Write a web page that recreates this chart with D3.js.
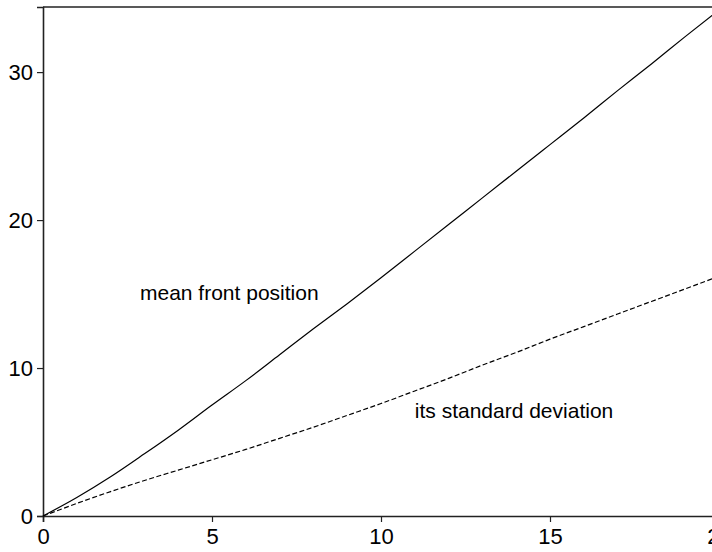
<!DOCTYPE html>
<html>
<head>
<meta charset="utf-8">
<script src="https://cdn.jsdelivr.net/npm/d3@7"></script>
<style>
  html, body { margin: 0; padding: 0; background: #fff; overflow: hidden; }
  svg { display: block; font-family: "Liberation Sans", Arial, Helvetica, sans-serif; }
</style>
</head>
<body>
<svg id="chart" width="712" height="552"></svg>
<script>
const xValues = [0,1,2,3,4,5,6,7,8,9,10,11,12,13,14,15,16,17,18,19,20];
const meanFront = [0,1.25,2.65,4.2,5.8,7.5,9.15,10.9,12.65,14.35,16.1,17.9,19.7,21.5,23.3,25.1,26.9,28.75,30.55,32.4,34.2];
const stdDev = [0,0.85,1.65,2.4,3.1,3.8,4.5,5.25,6.0,6.8,7.6,8.45,9.3,10.2,11.05,11.95,12.8,13.65,14.5,15.35,16.2];
const xTicks = [0,5,10,15,20];
const yTicks = [0,10,20,30];
const labels = [
  {text: "mean front position", x: 2.87, y: 14.6},
  {text: "its standard deviation", x: 11.0, y: 6.6}
];

const svg = d3.select("#chart");
const x = d3.scaleLinear().domain([0,20]).range([43,719]);
const y = d3.scaleLinear().domain([0,34.4]).range([516,7]);

const axisColor = "#222";

// top frame line
svg.append("line")
  .attr("x1", x(0)).attr("x2", x(20))
  .attr("y1", y(34.4)).attr("y2", y(34.4))
  .attr("stroke", axisColor).attr("stroke-width", 1.6);

const xAxis = svg.append("g")
  .attr("transform", `translate(0,${y(0)})`)
  .call(d3.axisBottom(x).tickValues(xTicks).tickSize(6).tickPadding(6).tickFormat(d3.format("d")));
xAxis.select(".domain").attr("stroke", axisColor).attr("stroke-width", 1.6);
xAxis.selectAll(".tick line").attr("stroke", axisColor).attr("stroke-width", 1.2);
xAxis.selectAll(".tick text").attr("font-size", 22).attr("fill", "#000")
  .attr("font-family", "'Liberation Sans', Arial, sans-serif");

const yAxis = svg.append("g")
  .attr("transform", `translate(${x(0)},0)`)
  .call(d3.axisLeft(y).tickValues(yTicks).tickSize(6).tickPadding(4).tickFormat(d3.format("d")));
yAxis.select(".domain").attr("stroke", axisColor).attr("stroke-width", 1.6);
yAxis.selectAll(".tick line").attr("stroke", axisColor).attr("stroke-width", 1.2);
yAxis.selectAll(".tick text").attr("font-size", 22).attr("fill", "#000")
  .attr("font-family", "'Liberation Sans', Arial, sans-serif");

const line = d3.line().x((d,i) => x(xValues[i])).y(d => y(d)).curve(d3.curveMonotoneX);

svg.append("path").datum(meanFront)
  .attr("d", line).attr("fill", "none")
  .attr("stroke", "#000").attr("stroke-width", 1.2);

svg.append("path").datum(stdDev)
  .attr("d", line).attr("fill", "none")
  .attr("stroke", "#000").attr("stroke-width", 1.2)
  .attr("stroke-dasharray", "5,2.5");

svg.selectAll("text.annot").data(labels).enter().append("text")
  .attr("class", "annot")
  .attr("x", d => x(d.x)).attr("y", d => y(d.y))
  .attr("font-size", 21).attr("fill", "#000")
  .text(d => d.text);
</script>
</body>
</html>
